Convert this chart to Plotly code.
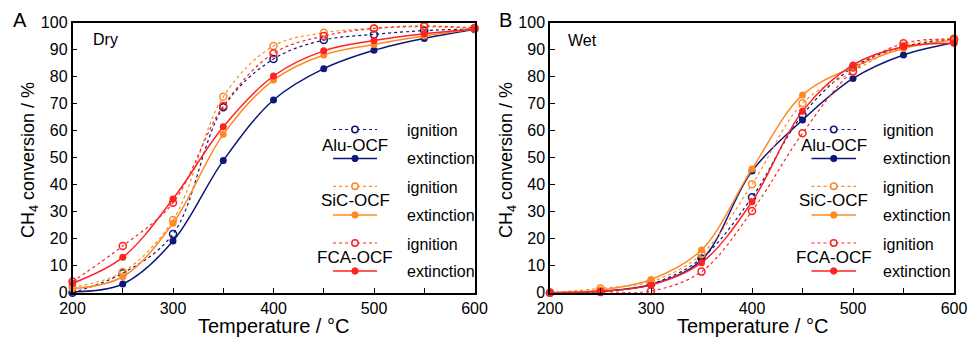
import plotly.graph_objects as go

W, H = 968, 337
temps = [200, 250, 300, 350, 400, 450, 500, 550, 600]

# Panel A (Dry)
dry_alu_ign = [0.0, 7.2, 21.7, 68.6, 86.5, 93.5, 95.6, 97.0, 97.6]
dry_alu_ext = [0.3, 3.2, 19.1, 48.9, 71.3, 82.9, 89.7, 94.1, 97.5]
dry_sic_ign = [2.0, 7.7, 26.9, 72.5, 91.3, 96.2, 97.8, 98.4, 97.8]
dry_sic_ext = [1.5, 5.9, 25.7, 58.6, 78.7, 88.0, 91.9, 95.0, 97.6]
dry_fca_ign = [4.1, 17.3, 33.3, 69.1, 88.6, 95.0, 97.8, 98.7, 98.0]
dry_fca_ext = [3.5, 13.1, 34.7, 61.4, 80.2, 89.5, 93.3, 95.8, 97.6]

# Panel B (Wet)
wet_alu_ign = [0.0, 0.4, 3.2, 12.7, 35.3, 65.8, 83.4, 91.0, 93.8]
wet_alu_ext = [0.0, 0.5, 3.0, 12.1, 45.0, 63.9, 79.3, 88.0, 92.5]
wet_sic_ign = [0.0, 1.6, 4.1, 14.2, 40.1, 70.1, 81.8, 91.4, 94.1]
wet_sic_ext = [0.0, 1.0, 4.9, 15.8, 45.8, 73.2, 83.4, 90.4, 93.5]
wet_fca_ign = [0.0, 0.3, 0.6, 7.8, 30.2, 59.0, 82.0, 92.3, 93.8]
wet_fca_ext = [0.0, 0.5, 2.8, 11.1, 33.7, 67.2, 84.3, 91.0, 92.3]

catalysts = ["Alu-OCF", "SiC-OCF", "FCA-OCF"]
colors = ["#0d1877", "#ff8a24", "#ff2222"]
x_ticks = [200, 300, 400, 500, 600]
y_ticks = [0, 10, 20, 30, 40, 50, 60, 70, 80, 90, 100]
x_title = "Temperature / °C"
y_title = "CH<sub>4</sub> conversion / %"

FONT = "Arial, Liberation Sans, sans-serif"


def px(x):
    return x / W


def py(y):
    return 1 - y / H


fig = go.Figure()

panels = [
    ("x", "y", [(dry_alu_ign, dry_alu_ext), (dry_sic_ign, dry_sic_ext), (dry_fca_ign, dry_fca_ext)]),
    ("x2", "y2", [(wet_alu_ign, wet_alu_ext), (wet_sic_ign, wet_sic_ext), (wet_fca_ign, wet_fca_ext)]),
]

for xa, ya, data in panels:
    for (ign, ext), col, name in zip(data, colors, catalysts):
        fig.add_trace(go.Scatter(
            x=temps, y=ign, xaxis=xa, yaxis=ya, mode="lines+markers",
            line=dict(color=col, width=1.2, dash="dot", shape="spline", smoothing=1.0),
            marker=dict(symbol="circle-open", size=7, color=col, line=dict(width=1.5, color=col)),
            name=name + " ignition", showlegend=False, cliponaxis=False))
        fig.add_trace(go.Scatter(
            x=temps, y=ext, xaxis=xa, yaxis=ya, mode="lines+markers",
            line=dict(color=col, width=1.5, shape="spline", smoothing=1.0),
            marker=dict(symbol="circle", size=7, color=col),
            name=name + " extinction", showlegend=False, cliponaxis=False))

# axis domains in page pixels
ax_px = [(72.5, 474.5), (550, 954)]
y_top, y_bot = 22.5, 292.7

axis_common = dict(
    showline=True, linecolor="black", linewidth=1.5, mirror=True,
    ticks="inside", ticklen=5, tickwidth=1.2, tickcolor="black",
    showgrid=False, zeroline=False, automargin=False,
    tickfont=dict(family=FONT, size=16, color="black"),
)

for i, (x0, x1) in enumerate(ax_px):
    sfx = "" if i == 0 else "2"
    fig.update_layout(**{
        "xaxis" + sfx: dict(
            domain=[px(x0), px(x1)], range=[200, 600], anchor="y" + sfx,
            tickvals=x_ticks, minor=dict(dtick=50, ticks="inside", ticklen=5, tickcolor="black", tickwidth=1.2),
            **axis_common),
        "yaxis" + sfx: dict(
            domain=[py(y_bot), py(y_top)], range=[0, 100], anchor="x" + sfx,
            tickvals=y_ticks,
            **axis_common),
    })

shapes = []
annotations = []

leg_rows = [(129.5, 145.5, 158.5), (186.3, 200.5, 215.0), (243.0, 257.0, 271.0)]
leg_x = [(333, 377, 404.5), (811.5, 856, 880.5)]
for (lx0, lx1, tx) in leg_x:
    cx = (lx0 + lx1) / 2
    for (yi, yt, ye), col, name in zip(leg_rows, colors, catalysts):
        shapes.append(dict(type="line", xref="paper", yref="paper", x0=px(lx0), x1=px(lx1), y0=py(yi), y1=py(yi),
                           line=dict(color=col, width=1.2, dash="dot")))
        shapes.append(dict(type="line", xref="paper", yref="paper", x0=px(lx0), x1=px(lx1), y0=py(ye), y1=py(ye),
                           line=dict(color=col, width=1.5)))
        shapes.append(dict(type="circle", xref="paper", yref="paper", xsizemode="pixel", ysizemode="pixel",
                           xanchor=px(cx), yanchor=py(yi), x0=-3.2, x1=3.2, y0=-3.2, y1=3.2,
                           line=dict(color=col, width=1.5), fillcolor="white"))
        shapes.append(dict(type="circle", xref="paper", yref="paper", xsizemode="pixel", ysizemode="pixel",
                           xanchor=px(cx), yanchor=py(ye), x0=-3.2, x1=3.2, y0=-3.2, y1=3.2,
                           line=dict(color=col, width=1), fillcolor=col))
        annotations.append(dict(text=name, xref="paper", yref="paper", x=px(cx), y=py(yt), showarrow=False,
                                xanchor="center", yanchor="middle", font=dict(family=FONT, size=17, color="black")))
        annotations.append(dict(text="ignition", xref="paper", yref="paper", x=px(tx), y=py(yi + 1), showarrow=False,
                                xanchor="left", yanchor="middle", font=dict(family=FONT, size=16, color="black")))
        annotations.append(dict(text="extinction", xref="paper", yref="paper", x=px(tx), y=py(ye), showarrow=False,
                                xanchor="left", yanchor="middle", font=dict(family=FONT, size=16, color="black")))

for t, x, y, s in [("A", 11, 20, 20), ("B", 497, 20, 20), ("Dry", 91, 39, 16), ("Wet", 566, 40, 16)]:
    annotations.append(dict(text=t, xref="paper", yref="paper", x=px(x), y=py(y), showarrow=False,
                            xanchor="left", yanchor="middle", font=dict(family=FONT, size=s, color="black")))

# axis titles
for (x0, x1), ytx in zip(ax_px, [29, 507]):
    annotations.append(dict(text=x_title, xref="paper", yref="paper", x=px((x0 + x1) / 2), y=py(326),
                            showarrow=False, xanchor="center", yanchor="middle",
                            font=dict(family=FONT, size=20, color="black")))
    annotations.append(dict(text=y_title, xref="paper", yref="paper", x=px(ytx), y=py(160), textangle=-90,
                            showarrow=False, xanchor="center", yanchor="middle",
                            font=dict(family=FONT, size=18, color="black")))

fig.update_layout(
    width=W, height=H, margin=dict(l=0, r=0, t=0, b=0),
    paper_bgcolor="white", plot_bgcolor="white",
    shapes=shapes, annotations=annotations, showlegend=False,
    font=dict(family=FONT, color="black"),
)

fig.write_html(
    "out.html",
    config={"displayModeBar": False},
    post_script="document.body.style.margin='0';document.body.style.overflow='hidden';",
)
